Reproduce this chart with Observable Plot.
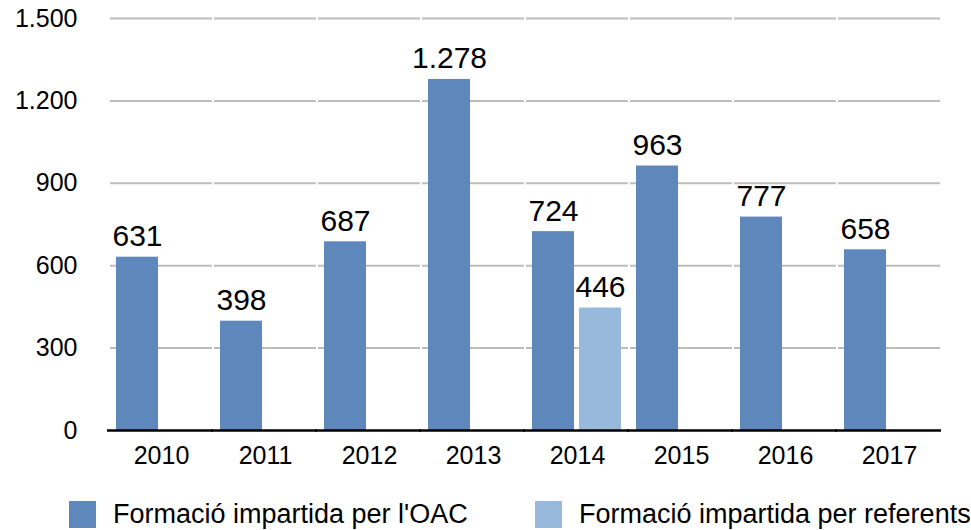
<!DOCTYPE html>
<html>
<head>
<meta charset="utf-8">
<script src="https://cdn.jsdelivr.net/npm/d3@7"></script>
<script src="https://cdn.jsdelivr.net/npm/@observablehq/plot@0.6"></script>
<style>
  body { margin: 0; background: #fff; font-family: "Liberation Sans", Arial, Helvetica, sans-serif; }
  #wrap { width: 971px; height: 530px; position: relative; }
  #legend { position: absolute; left: 0; top: 501px; height: 27px; width: 971px; }
  .item { position: absolute; top: 0; display: flex; align-items: center; height: 27px; font-size: 27px; color: #000; white-space: nowrap; }
  .sw { width: 27px; height: 27px; margin-right: 17px; flex: none; }
</style>
</head>
<body>
<div id="wrap"><div id="chart"></div><div id="legend"></div></div>
<script>
const years = ["2010", "2011", "2012", "2013", "2014", "2015", "2016", "2017"];
const seriesNames = ["Formació impartida per l'OAC", "Formació impartida per referents"];
const oacValues = [631, 398, 687, 1278, 724, 963, 777, 658];
const referentYears = ["2014"];
const referentValues = [446];
const yTicks = [0, 300, 600, 900, 1200, 1500];
const colors = ["#5e87bb", "#97b9dc"];

const locale = d3.formatLocale({decimal: ",", thousands: ".", grouping: [3], currency: ["", " €"]});
const fmt = locale.format(",d");

const data = [
  ...years.map((y, i) => ({year: y, series: seriesNames[0], value: oacValues[i]})),
  ...referentYears.map((y, i) => ({year: y, series: seriesNames[1], value: referentValues[i]}))
];

const chart = Plot.plot({
  width: 971,
  height: 490,
  marginLeft: 108,
  marginRight: 30,
  marginTop: 18,
  marginBottom: 60,
  style: {fontFamily: "'Liberation Sans', Arial, Helvetica, sans-serif", fontSize: "25px", color: "#000", background: "#fff"},
  fx: {domain: years, padding: 0, label: null, axis: null},
  x: {domain: seriesNames, paddingInner: 0.1, paddingOuter: 0.15, axis: null},
  y: {domain: [0, 1500], ticks: yTicks, label: null, tickFormat: fmt},
  color: {domain: seriesNames, range: colors},
  marks: [
    Plot.ruleY(yTicks.filter(d => d > 0), {stroke: "#bcbcbc", strokeWidth: 2, strokeOpacity: 1, insetLeft: 1, insetRight: 1}),
    Plot.axisY({ticks: yTicks, tickSize: 0, tickPadding: 32, tickFormat: fmt, fontSize: 25, label: null}),
    Plot.axisFx({domain: years, tickSize: 0, tickPadding: 16, fontSize: 25, label: null, anchor: "bottom"}),
    Plot.barY(data, {fx: "year", x: "series", y: "value", fill: "series"}),
    Plot.text(data, {fx: "year", x: "series", y: "value", text: d => fmt(d.value), lineAnchor: "bottom", dy: -11, fontSize: 30, fill: "#000"}),
    Plot.ruleY([0], {stroke: "#000", strokeWidth: 2.5, insetLeft: -2})
  ]
});
document.getElementById("chart").appendChild(chart);

const legend = document.getElementById("legend");
const lefts = [69, 535];
seriesNames.forEach((name, i) => {
  const item = document.createElement("div");
  item.className = "item";
  item.style.left = lefts[i] + "px";
  const sw = document.createElement("div");
  sw.className = "sw";
  sw.style.background = colors[i];
  const tx = document.createElement("span");
  tx.textContent = name;
  item.appendChild(sw);
  item.appendChild(tx);
  legend.appendChild(item);
});
</script>
</body>
</html>
